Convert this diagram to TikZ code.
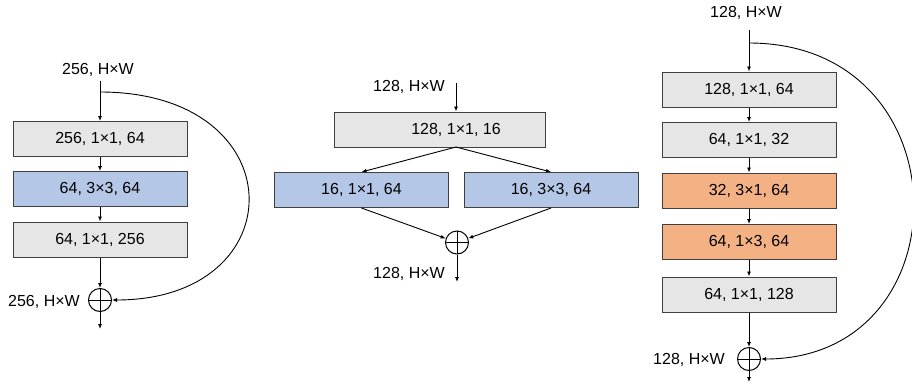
\documentclass[tikz,border=0pt]{standalone}
\usepackage{fontspec}
\setmainfont{Liberation Sans}
\usepackage{xcolor}
\usetikzlibrary{arrows.meta,positioning}

\definecolor{boxgray}{HTML}{E6E6E6}
\definecolor{boxblue}{HTML}{B4C7E7}
\definecolor{boxorange}{HTML}{F4B183}
\definecolor{boxline}{HTML}{404040}

\begin{document}
\begin{tikzpicture}[font=\fontsize{16}{19}\selectfont, x=1pt, y=-1pt,
  layer/.style={draw=boxline, line width=1pt, minimum width=174pt, minimum height=35pt, inner sep=0pt},
  graybox/.style={layer, fill=boxgray},
  bluebox/.style={layer, fill=boxblue},
  orangebox/.style={layer, fill=boxorange},
  sum/.style={circle, draw, line width=1pt, minimum size=23pt, inner sep=0pt,
    path picture={\draw[line width=1pt] (path picture bounding box.north) -- (path picture bounding box.south)
      (path picture bounding box.west) -- (path picture bounding box.east);}},
  flow/.style={-{Latex[length=5pt, width=4pt]}, line width=0.9pt}]
  \useasboundingbox (0,0) rectangle (912,383);

  % Bottleneck block (left)
  \node (inA) at (98,70) {256, H×W};
  \coordinate (topA) at (100,81);
  \coordinate (skipA) at (100,92);
  \node[graybox] (a1) at (100,139) {256, 1×1, 64};
  \node[bluebox] (a2) at (100,189) {64, 3×3, 64};
  \node[graybox] (a3) at (100,239.5) {64, 1×1, 256};
  \node[sum] (sumA) at (100,300) {};
  \node (outAl) at (44,302) {256, H×W};
  \coordinate (outA) at (100,329);
  \draw[flow] (topA) -- (a1);
  \draw[flow] (a1) -- (a2);
  \draw[flow] (a2) -- (a3);
  \draw[flow] (a3) -- (sumA);
  \draw[flow] (sumA) -- (outA);
  \draw[flow] (skipA) .. controls (296,92) and (296,300) .. (sumA.east);

  % Fire module (middle)
  \node (inB) at (409,87) {128, H×W};
  \coordinate (topB) at (456,83);
  \node[graybox, minimum width=211pt, label={[xshift=16.5pt]center:128, 1×1, 16}] (b1) at (439.5,129.5) {};
  \coordinate (forkB) at (456,147);
  \node[bluebox] (b2) at (361.5,190) {16, 1×1, 64};
  \node[bluebox] (b3) at (551,190) {16, 3×3, 64};
  \node[sum] (sumB) at (457,242.5) {};
  \node (outBl) at (409,274) {128, H×W};
  \coordinate (outB) at (457,282);
  \draw[flow] (topB) -- (topB |- b1.north);
  \draw[flow] (forkB) -- (b2.north);
  \draw[flow] (forkB) -- (b3.north);
  \draw[flow] (b2.south) -- (sumB);
  \draw[flow] (b3.south) -- (sumB);
  \draw[flow] (sumB) -- (outB);

  % Factorized block (right)
  \node (inC) at (746,13) {128, H×W};
  \coordinate (topC) at (749,30);
  \coordinate (skipC) at (749,43);
  \node[graybox] (c1) at (749,89.5) {128, 1×1, 64};
  \node[graybox] (c2) at (749,140) {64, 1×1, 32};
  \node[orangebox] (c3) at (749,190.5) {32, 3×1, 64};
  \node[orangebox] (c4) at (749,242) {64, 1×3, 64};
  \node[graybox] (c5) at (749,294.5) {64, 1×1, 128};
  \node[sum] (sumC) at (749,359) {};
  \node (outCl) at (689,360) {128, H×W};
  \coordinate (outC) at (749,382);
  \draw[flow] (topC) -- (c1);
  \draw[flow] (c1) -- (c2);
  \draw[flow] (c2) -- (c3);
  \draw[flow] (c3) -- (c4);
  \draw[flow] (c4) -- (c5);
  \draw[flow] (c5) -- (sumC);
  \draw[flow] (sumC) -- (outC);
  \draw[flow] (skipC) .. controls (966,43) and (966,359) .. (sumC.east);
\end{tikzpicture}
\end{document}
